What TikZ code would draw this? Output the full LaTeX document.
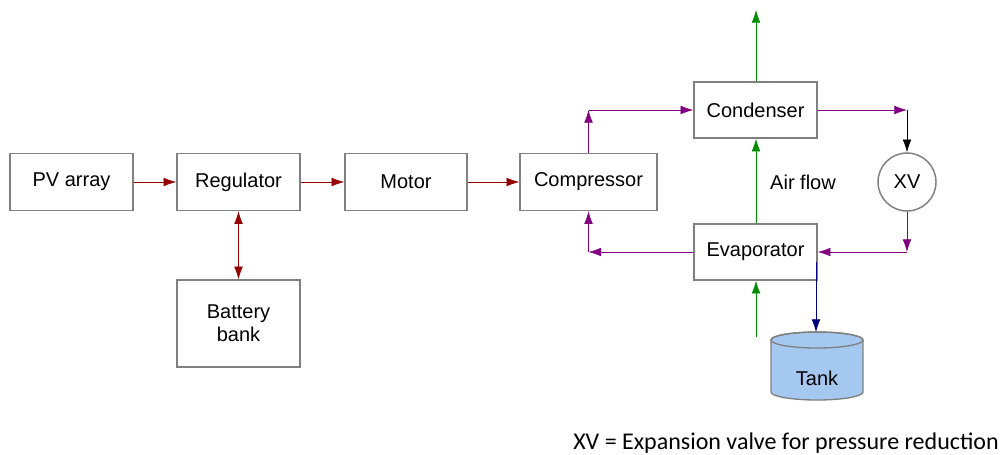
\documentclass[tikz,border=0pt]{standalone}
\usepackage{fontspec}
\setmainfont{Liberation Sans}
\newfontfamily\notefont{Carlito}
\usetikzlibrary{arrows.meta,calc}
\definecolor{boxgray}{RGB}{128,128,128}
\definecolor{dred}{RGB}{150,0,0}
\definecolor{purp}{RGB}{128,0,128}
\definecolor{grn}{RGB}{0,140,0}
\definecolor{navy}{RGB}{0,0,128}
\definecolor{tankblue}{RGB}{164,200,240}
\begin{document}
\begin{tikzpicture}[x=0.75pt,y=0.75pt,
  blk/.style={draw=boxgray,line width=1.1pt,fill=white,font=\fontsize{15}{17.5}\selectfont,align=center,inner sep=0pt,minimum height=42.75pt},
  tip/.style={-{Latex[length=9.5pt,width=6.5pt]}},
  redline/.style={tip,draw=dred,line width=0.5pt},
  purpline/.style={tip,draw=purp,line width=0.5pt},
  grnline/.style={tip,draw=grn,line width=0.5pt},
  blkline/.style={tip,draw=black,line width=0.5pt},
  bluline/.style={tip,draw=navy,line width=0.5pt},
  lbl/.style={font=\fontsize{15}{17.5}\selectfont,inner sep=0pt}]
\useasboundingbox (0,0) rectangle (1005,-454);
% blocks
\node[blk,minimum width=92.25pt] (pv) at (71.5,-182) {PV array};
\node[blk,minimum width=92.25pt] (reg) at (238.5,-182) {Regulator};
\node[blk,minimum width=91.5pt] (mot) at (406,-182) {Motor};
\node[blk,minimum width=102.75pt] (comp) at (588.5,-182) {Compressor};
\node[blk,minimum width=92.25pt,minimum height=65.25pt] (bat) at (238.5,-323.5) {Battery\\bank};
\node[blk,minimum width=92.25pt,minimum height=42pt] (cond) at (755.5,-110) {Condenser};
\node[blk,minimum width=92.25pt,minimum height=42pt] (evap) at (755.5,-252) {Evaporator};
\node[blk,circle,minimum size=43.5pt] (xv) at (907,-182) {XV};
% tank
\filldraw[fill=tankblue,draw=boxgray,line width=1pt] (771,-340) -- (771,-392) arc[start angle=180,end angle=360,x radius=46,y radius=8] -- (863,-340) arc[start angle=0,end angle=180,x radius=46,y radius=8] -- cycle;
\draw[boxgray,line width=1pt] (817,-340) ellipse[x radius=46,y radius=8];
\node[lbl] (tank) at (817,-378) {Tank};
\coordinate (tanktop) at (816,-332);
\coordinate (wstart) at (816,-262);
% coordinates
\coordinate (c1) at (comp.north |- cond.west);
\coordinate (c2) at (xv.north |- cond.east);
\coordinate (c3) at (xv.south |- evap.east);
\coordinate (c4) at (comp.south |- evap.west);
\coordinate (c5) at (756,-10);
\coordinate (c6) at (756,-337);
% electrical
\draw[redline] (pv.east) -- (reg.west);
\draw[redline] (reg.east) -- (mot.west);
\draw[redline] (mot.east) -- (comp.west);
\draw[redline,{Latex[length=9.5pt,width=6.5pt]}-{Latex[length=9.5pt,width=6.5pt]}] (reg.south) -- (bat.north);
% refrigerant
\draw[purpline] (comp.north) -- (c1);
\draw[purpline] (c1) -- (cond.west);
\draw[purpline] (cond.east) -- (c2);
\draw[blkline] (c2) -- (xv.north);
\draw[purpline] (xv.south) -- (c3);
\draw[purpline] (c3) -- (evap.east);
\draw[purpline] (evap.west) -- (c4);
\draw[purpline] (c4) -- (comp.south);
% air
\draw[grnline] (cond.north -| c5) -- (c5);
\draw[grnline] (evap.north -| c5) -- (cond.south -| c5);
\draw[grnline] (c6) -- (evap.south -| c6);
\node[lbl] (air) at (803,-182) {Air flow};
% water
\draw[bluline] (wstart) -- (tanktop);
% note
\node[anchor=base west,inner sep=0pt,font=\notefont\fontsize{18}{20}\selectfont] (note) at (573,-449) {XV = Expansion valve for pressure reduction};
\end{tikzpicture}
\end{document}
